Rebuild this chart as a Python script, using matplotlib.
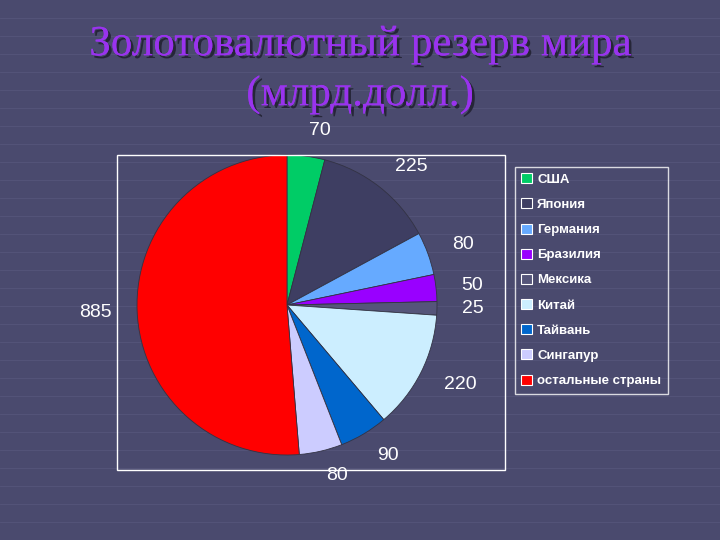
import matplotlib
matplotlib.use("Agg")
import matplotlib.pyplot as plt
import matplotlib.patheffects as pe
from matplotlib.patches import Rectangle, Patch

countries = ["США", "Япония", "Германия", "Бразилия", "Мексика", "Китай", "Тайвань", "Сингапур", "остальные страны"]
values = [70, 225, 80, 50, 25, 220, 90, 80, 885]
colors = ["#00cc66", "#3e3e62", "#66aaff", "#9900ff", "#55557a", "#cceeff", "#0066cc", "#ccccff", "#ff0000"]

bg = "#4a4a6e"
fig = plt.figure(figsize=(7.2, 5.4), dpi=100, facecolor=bg)
for y in range(0, 540, 18):
    fig.add_artist(plt.Line2D([0, 1], [y/540, y/540], color="#55557a", lw=0.6, zorder=0))

fig.add_artist(Rectangle((117/720, 1-470/540), (505-117)/720, (470-155)/540, fill=False, ec="white", lw=1))

ax = fig.add_axes([(287-150)/720, 1-(305+150)/540, 300/720, 300/540])
ax.set_facecolor("none")
wedges, texts = ax.pie(values, colors=colors, startangle=90, counterclock=False,
                       labels=[str(v) for v in values], labeldistance=1.17,
                       wedgeprops=dict(edgecolor="#333344", linewidth=0.6),
                       textprops=dict(color="white", fontsize=14, family="Liberation Sans"))
ax.set_xlim(-1, 1)
ax.set_ylim(-1, 1)
ax.set_aspect("equal")

handles = [Patch(facecolor=c, edgecolor="white", lw=0.8) for c in colors]
leg = fig.legend(handles, countries, loc="upper left", bbox_to_anchor=(508/720, 1-160/540),
                 frameon=True, facecolor="none", edgecolor="white",
                 labelcolor="white", handlelength=0.8, handleheight=0.8, labelspacing=0.95,
                 handletextpad=0.4, borderpad=0.5, prop=dict(family="Liberation Sans", weight="bold", size=9.5))
leg.get_frame().set_linewidth(1)
leg.get_frame().set_boxstyle("square", pad=0)

for txt, y in [("Золотовалютный резерв мира", 45), ("(млрд.долл.)", 95)]:
    fig.text(0.5, 1-y/540, txt, ha="center", va="center", color="#9933ee", fontsize=31,
             family="Liberation Serif",
             path_effects=[pe.withSimplePatchShadow(offset=(2, -2), shadow_rgbFace="#222233", alpha=0.9), pe.Normal()])

fig.savefig("out.png", dpi=100, facecolor=bg)
